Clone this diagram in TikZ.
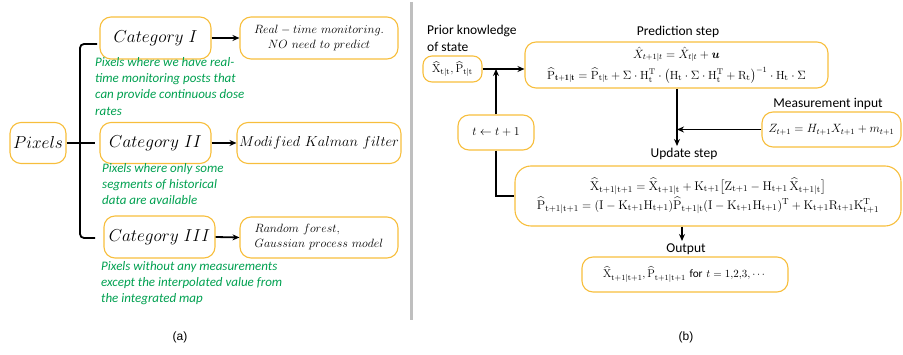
\documentclass[tikz,border=0pt]{standalone}
\usepackage{amsmath}
\usepackage{fontspec}
\newfontfamily\calib{Carlito}
\newfontfamily\arialf{Liberation Sans}
\usetikzlibrary{arrows.meta}
\definecolor{boxc}{RGB}{247,190,60}
\definecolor{grn}{RGB}{0,160,80}
\newcommand\ur[1]{\mathrm{#1}}
\newcommand\wh[1]{\widehat{\mathrm{#1}}}
\begin{document}
\begin{tikzpicture}[x=1pt,y=-1pt,
  bx/.style={draw=boxc,line width=1.1pt,rounded corners=11pt,inner sep=2pt,align=center},
  arr/.style={line width=1.8pt,-{Stealth[length=7pt,width=6pt]}},
  ln/.style={line width=1.8pt},
  cat/.style={font=\fontsize{16.5}{19}\selectfont},
  gtxt/.style={anchor=north west,align=left,text=grn,inner sep=0pt,font=\calib\fontsize{13}{16.3}\selectfont\itshape},
  lbl/.style={font=\calib\fontsize{13.5}{16.5}\selectfont,inner sep=0pt},
  eq/.style={font=\fontsize{11.6}{14}\selectfont}]
\useasboundingbox (0,0) rectangle (903,355);
% ---------- (a)
\node[bx,cat,minimum width=56pt,minimum height=41pt] (pix) at (38,143) {$Pixels$};
\node[bx,cat,minimum width=111pt,minimum height=42pt] (c1) at (155.5,38) {$Category\ I$};
\node[bx,cat,minimum width=111pt,minimum height=41pt] (c2) at (155.5,143) {$Category\ II$};
\node[bx,cat,minimum width=111pt,minimum height=42pt] (c3) at (159.5,237) {$Category\ III$};
\node[bx,minimum width=158pt,minimum height=42pt,font=\fontsize{12.5}{15}\selectfont] (r1) at (319,38) {$Real - time\ monitoring.$\\$NO\ need\ to\ predict$};
\node[bx,minimum width=158pt,minimum height=41pt,font=\fontsize{14.5}{17}\selectfont] (r2) at (319,143) {$Modified\ Kalman\ filter$};
\node[bx,minimum width=158pt,minimum height=41pt,font=\fontsize{12.5}{15}\selectfont,align=left] (r3) at (319,237.5) {$Random\ forest,$\\$Gaussian\ process\ model$};
\coordinate (bt) at (97,44);
\coordinate (bb) at (95,238);
\coordinate (bm) at (95,143);
\draw[ln,rounded corners=4pt] (bt) -- (80,44) -- (80,238) -- (bb);
\draw[ln] (pix.east) -- (bm);
\draw[arr] (c1.east) -- (r1.west);
\draw[arr] (c2.east) -- (r2.west);
\draw[arr] (c3.east) -- (r3.west);
\node[gtxt] (g1) at (95,57) {Pixels where we have real-\\time monitoring posts that\\can provide continuous dose\\rates};
\node[gtxt] (g2) at (102,163) {Pixels where only some\\segments of historical\\data are available};
\node[gtxt] (g3) at (101,261) {Pixels without any measurements\\except the interpolated value from\\the integrated map};
\node[font=\arialf\fontsize{12}{14}\selectfont] (la) at (180,337) {(a)};
\draw[line width=3pt,black!25] (411,2) -- (411,320);
% ---------- (b)
\node[lbl,anchor=north west,align=left] (prior) at (427,25) {Prior knowledge\\of state};
\node[bx,eq,minimum width=59pt,minimum height=26pt,rounded corners=9pt] (xp) at (452.5,69) {$\wh{X}_{\ur{t|t}},\wh{P}_{\ur{t|t}}$};
\node[lbl] (plab) at (678,32) {Prediction step};
\node[bx,eq,minimum width=303pt,minimum height=46pt,font=\fontsize{11.8}{21}\selectfont] (pred) at (676.5,65)
 {$\hat{X}_{t+1|t} = \hat{X}_{t|t} + \boldsymbol{u}$\\
  $\wh{P}_{\mathbf{t+1|t}} = \wh{P}_{\ur{t|t}} + \Sigma\cdot\ur{H}_{\ur t}^{\ur T}\cdot\bigl(\ur{H}_{\ur t}\cdot\Sigma\cdot\ur{H}_{\ur t}^{\ur T}+\ur{R}_{\ur t}\bigr)^{-1}\cdot\ur{H}_{\ur t}\cdot\Sigma$};
\node[lbl] (mlab) at (828,104) {Measurement input};
\node[bx,eq,minimum width=139pt,minimum height=35pt] (meas) at (831.5,129.5) {$Z_{t+1} = H_{t+1}X_{t+1} + m_{t+1}$};
\node[bx,minimum width=76pt,minimum height=35pt,font=\fontsize{13}{15}\selectfont] (tb) at (496,132.5) {$t \leftarrow t+1$};
\node[lbl] (ulab) at (684,154) {Update step};
\node[bx,eq,minimum width=386pt,minimum height=60pt,rounded corners=16pt,font=\fontsize{12.6}{19}\selectfont] (upd) at (708,196)
 {$\wh{X}_{\ur{t+1|t+1}} = \wh{X}_{\ur{t+1|t}} + \ur{K}_{\ur{t+1}}\bigl[\ur{Z}_{\ur{t+1}} - \ur{H}_{\ur{t+1}}\,\wh{X}_{\ur{t+1|t}}\bigr]$\\
  $\wh{P}_{\ur{t+1|t+1}} = (\ur{I}-\ur{K}_{\ur{t+1}}\ur{H}_{\ur{t+1}})\wh{P}_{\ur{t+1|t}}(\ur{I}-\ur{K}_{\ur{t+1}}\ur{H}_{\ur{t+1}})^{\ur T} + \ur{K}_{\ur{t+1}}\ur{R}_{\ur{t+1}}\ur{K}_{\ur{t+1}}^{\ur T}$};
\node[lbl] (olab) at (686,249) {Output};
\node[bx,eq,minimum width=206pt,minimum height=35pt,font=\fontsize{11.3}{14}\selectfont] (out) at (685,274.5) {$\wh{X}_{\ur{t+1|t+1}},\wh{P}_{\ur{t+1|t+1}}$ {\calib for} $t = 1{,}2{,}3,\cdots$};
\node[font=\arialf\fontsize{12}{14}\selectfont] (lb) at (686,337) {(b)};
% connectors
\draw[arr] (xp.east) -- (xp.east -| pred.west);
\draw[arr] (tb.north) -- (tb.north |- xp.east);
\draw[ln] (tb.south) |- (upd.west);
\coordinate (uin) at (677,146);
\draw[arr] (pred.south -| uin) -- (uin);
\draw[arr] (meas.west) -- (meas.west -| uin);
\coordinate (oo) at (682,241);
\draw[arr] (upd.south -| oo) -- (oo);
\end{tikzpicture}
\end{document}
